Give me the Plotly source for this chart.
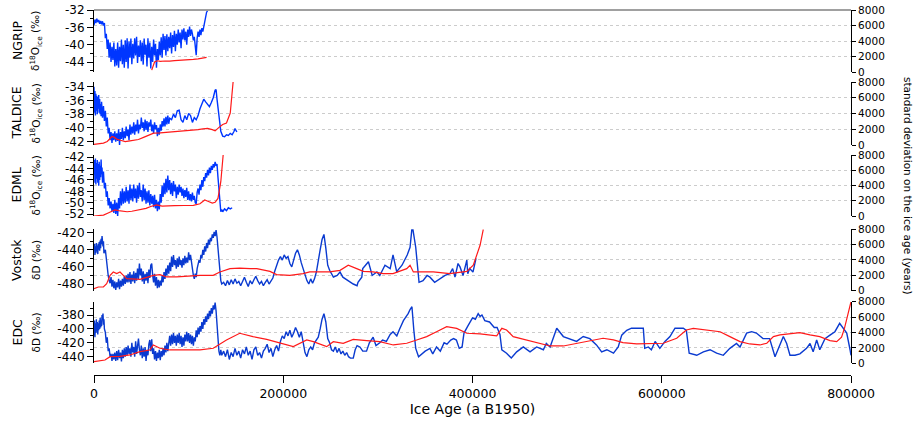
import plotly.graph_objects as go

# ages are in ka (thousand years before 1950); isotope values in permil; sigma in years

ngrip_age = list(range(0, 121))
ngrip_d18o = [-35.5, -34.2, -35.0, -34.0, -34.8, -34.3, -35.2, -34.5, -35.3, -34.6,
              -35.6, -35.0, -38.5, -37.5, -41.0, -38.8, -43.0, -39.5, -44.0, -40.5,
              -43.5, -39.5, -45.0, -41.0, -44.8, -39.5, -45.3, -40.5, -43.8, -38.8,
              -44.5, -40.0, -45.3, -39.0, -44.0, -38.5, -45.5, -39.2, -43.0, -38.6,
              -44.5, -39.8, -43.2, -38.5, -42.5, -38.2, -44.2, -40.2, -42.8, -39.0,
              -43.8, -39.5, -44.6, -38.6, -42.3, -40.0, -45.0, -38.5, -43.0, -39.5,
              -45.5, -40.5, -44.0, -38.8, -42.5, -39.8, -45.3, -41.0, -43.5, -39.3,
              -42.5, -38.3, -43.0, -37.5, -41.2, -38.0, -42.5, -37.6, -41.5, -38.2,
              -40.8, -37.2, -42.0, -37.8, -40.5, -36.8, -41.5, -37.5, -40.0, -36.5,
              -39.5, -37.2, -40.8, -36.5, -38.8, -36.2, -39.0, -37.0, -40.0, -36.5,
              -38.2, -35.8, -38.0, -36.5, -37.5, -39.0, -38.2, -41.0, -42.4, -38.5,
              -37.0, -38.2, -36.5, -37.8, -36.2, -37.0, -35.8, -35.0, -33.5, -32.5,
              -32.2]
ngrip_sig_age = [61, 62, 64, 67, 70, 75, 80, 85, 90, 95, 100, 105, 110, 115, 119]
ngrip_sig = [250, 700, 1300, 1450, 1380, 1420, 1400, 1480, 1500, 1560, 1560, 1620, 1700, 1820, 1900]

taldice_age = ([0, 0.5, 1, 1.5, 2, 2.5, 3, 3.5, 4, 4.5, 5, 5.5, 6, 6.5, 7, 7.5, 8]
               + list(range(9, 81)) + list(range(82, 129, 2))
               + [129, 130, 132, 134, 136, 138, 140, 142, 144, 146, 148, 149, 151])
taldice_d18o = [-34.0, -37.8, -34.6, -38.2, -35.0, -37.5, -35.3, -38.0, -35.5, -37.2,
                -35.2, -37.8, -35.8, -38.0, -36.5, -38.3, -36.2,
                -38.5, -36.8, -39.0, -37.5, -39.8, -38.5, -40.8, -40.0, -41.8, -40.6,
                -42.2, -40.8, -41.8, -40.5, -42.0, -40.8, -41.9, -40.2, -42.5, -40.6,
                -41.6, -40.0, -41.8, -40.5, -41.5, -39.8, -41.2, -40.2, -41.8, -39.5,
                -41.0, -39.8, -40.8, -39.2, -41.0, -39.5, -40.5, -38.8, -40.8, -39.5,
                -40.2, -38.5, -40.0, -39.2, -40.5, -38.8, -40.3, -39.0, -40.6, -39.2,
                -39.8, -38.8, -40.5, -39.5, -40.8, -39.2, -40.2, -39.6, -41.2, -40.0,
                -41.0, -39.5, -40.4, -39.0, -39.8, -38.6, -39.8, -38.4, -39.5, -38.2,
                -39.4, -38.6,
                -38.8, -38.0, -38.5, -37.5, -37.4, -38.8, -39.2, -38.2, -38.8, -37.9,
                -38.2, -39.2, -38.5, -38.8, -38.2, -37.2, -36.4, -35.8, -36.2, -36.6,
                -36.9, -36.3, -35.6, -34.5,
                -34.4, -35.8, -38.5, -40.5, -41.2, -41.3, -41.0, -41.1, -40.8, -41.0,
                -40.5, -40.1, -40.6]
taldice_sig_age = [0, 5, 10, 14, 17, 19, 21, 24, 28, 33, 38, 43, 47, 53, 58, 63, 70, 80,
                   90, 100, 110, 115, 120, 125, 128, 133, 136, 140, 144, 147]
taldice_sig = [90, 130, 250, 450, 800, 1080, 1000, 750, 600, 430, 520, 620, 700, 1000,
               1300, 1500, 1550, 1650, 1750, 1780, 1950, 2050, 2100, 1950, 1800, 2330,
               2600, 2790, 4060, 8000]

edml_age = ([0, 0.5, 1, 1.5, 2, 2.5, 3, 3.5, 4, 4.5, 5, 5.5, 6, 6.5, 7, 7.5, 8, 8.5, 9]
            + list(range(10, 137)) + [138, 140, 142, 144, 146])
edml_d18o = [-45.0, -42.5, -46.5, -42.2, -46.8, -43.0, -45.8, -42.5, -46.5, -43.2,
             -47.0, -42.8, -46.0, -43.5, -45.5, -42.4, -45.0, -43.8, -46.5,
             -44.5, -47.5, -46.5, -49.0, -48.0, -50.5, -49.2, -51.0, -49.8, -51.5,
             -50.2, -51.8, -49.5, -52.0, -50.0, -52.4, -49.2, -51.0, -48.0, -50.5,
             -47.5, -50.2, -48.0, -50.0, -47.2, -49.8, -47.8, -50.2, -46.8, -49.5,
             -47.5, -49.8, -46.8, -49.2, -47.5, -50.0, -47.0, -49.3, -46.5, -49.0,
             -47.8, -49.8, -46.8, -49.5, -47.5, -50.2, -48.0, -50.0, -47.8, -50.5,
             -48.5, -50.2, -48.8, -50.8, -48.6, -51.0, -49.5, -51.5, -49.8, -51.2,
             -48.5, -50.0, -47.0, -49.0, -46.5, -48.5, -45.8, -48.2, -45.2, -47.8,
             -46.0, -48.5, -46.5, -48.8, -46.2, -48.0, -46.8, -49.2, -47.2, -48.6,
             -46.8, -48.2, -47.2, -48.8, -47.5, -49.2, -47.8, -49.0, -47.4, -49.5,
             -48.0, -49.6, -48.5, -49.8, -48.2, -49.5, -48.8, -50.0, -50.2, -48.2,
             -47.5, -48.6, -46.8, -47.8, -46.0, -47.2, -45.5, -46.2, -44.8, -45.6,
             -44.2, -45.2, -43.8, -44.8, -43.5, -44.2, -43.2, -43.8, -42.8, -43.5,
             -43.2, -45.5, -48.0, -50.5, -51.6, -51.2, -51.6,
             -51.1, -51.4, -50.9, -51.1, -50.9]
edml_sig_age = [0, 10, 15, 19, 22, 26, 30, 35, 40, 45, 50, 55, 60, 66, 72, 78, 85, 95,
                105, 112, 117, 121, 125, 128, 131, 134, 136.5]
edml_sig = [0, 120, 400, 650, 800, 700, 620, 560, 620, 750, 780, 1000, 1250, 1450,
            1300, 1350, 1360, 1380, 1400, 1600, 2100, 1900, 1700, 1800, 2300, 4500, 8000]

vostok_age = ([i / 2 for i in range(0, 23)] + list(range(12, 136)) + list(range(137, 250, 2))
              + [253, 257, 260, 263, 268, 274, 278, 279, 283, 284, 288.5, 290, 294, 299,
                 302, 307.5, 313, 316, 320, 321, 325.5, 331, 334, 336, 337, 340, 343.5,
                 347.7, 352, 355, 360, 365.6, 371, 376, 379, 381.5, 384.7, 386.8, 390,
                 394, 395, 397, 400.5, 403.7])
vostok_dD = [-440, -433, -446, -436, -444, -432, -442, -435, -445, -433, -440, -431,
             -441, -429, -438, -427, -433, -424, -430, -436, -430, -444, -442,
             -440, -452, -462, -470, -476, -479, -472, -483, -475, -485, -477, -487,
             -478, -484, -474, -486, -476, -483, -474, -482, -471, -480, -470, -478,
             -468, -478, -466, -480, -469, -477, -465, -479, -467, -476, -462, -474,
             -456, -470, -462, -477, -465, -480, -468, -476, -466, -479, -463, -473,
             -458, -456, -470, -478, -468, -482, -472, -485, -475, -484, -476, -482,
             -470, -478, -466, -474, -462, -470, -458, -468, -455, -465, -448, -460,
             -446, -458, -452, -462, -450, -460, -448, -458, -452, -461, -450, -458,
             -447, -456, -449, -455, -443, -452, -446, -458, -462, -470, -474, -468,
             -472, -462, -458, -452, -455, -446, -450, -440, -446, -436, -442, -432,
             -438, -428, -434, -426, -430, -422, -426, -419, -424, -417, -425, -440,
             -458, -470, -476, -480,
             -478, -482, -476, -481, -475, -480, -474, -479, -477, -482,
             -476, -472, -478, -483, -476, -480, -475, -471, -476, -480,
             -477, -482, -478, -475, -480, -476, -473, -465, -458, -452,
             -448, -452, -446, -450, -448, -456, -460, -452, -444, -440,
             -446, -455, -462, -470, -476, -480, -474, -479, -474, -466,
             -455, -440, -428, -422, -438, -458, -464,
             -472, -470, -466, -472, -476, -480, -482, -478, -472, -462, -456, -454,
             -470, -466, -470, -458, -462, -446, -466, -464, -458, -446, -437, -415,
             -416, -437, -478, -476, -470, -472, -478, -474, -470, -468, -462, -472,
             -456, -460, -470, -452, -468, -462, -466, -450]
vostok_sig_age = [0, 4.6, 9.9, 13.4, 17, 20.4, 24, 27.5, 31, 34.5, 48.6, 62.7, 69.7,
                  76.8, 87.4, 101, 112, 126, 133, 143.7, 154, 165, 172, 186, 193, 207,
                  221, 228, 249, 260, 268.7, 277.6, 284.6, 295, 305.7, 316, 325, 330.5,
                  334, 337.5, 344.5, 358.6, 376, 394, 400.8, 404, 408, 411.4]
vostok_sig = [260, 480, 480, 910, 2000, 2440, 2220, 2440, 2000, 1570, 1480, 2000, 2090,
              1790, 1790, 1920, 2000, 2000, 2440, 2870, 2950, 2870, 2870, 2520, 2090,
              2000, 2220, 2440, 2440, 2650, 3310, 2870, 2520, 2440, 2220, 2220, 2650,
              2870, 3310, 2440, 2440, 2440, 2220, 2520, 3310, 4390, 5920, 8000]

edc_age = ([i / 2 for i in range(0, 23)] + list(range(12, 136)) + list(range(137, 272, 2))
           + [274, 276, 278, 281, 284, 288, 291, 295, 298, 302, 305, 309, 313, 316, 320,
              323, 327, 330, 332, 334, 336, 338, 340, 343, 346, 350, 355, 358, 362, 366,
              370, 373, 377, 380, 383, 386, 389, 391, 395, 400, 403, 406, 408, 410, 413,
              418, 423, 426, 429]
           + [431, 436, 441, 446.7, 453.7, 460.8, 467.8, 474.9, 478, 482, 489, 496, 503,
              510, 517, 524, 531, 536.5, 542, 549, 554, 557.7, 563, 568, 573.5, 580.5,
              582, 585.8, 589, 593, 598, 603.4, 608.7, 614, 622.8, 626, 629, 637, 644,
              651, 658, 665, 672, 679, 682.7, 689.7, 695, 700, 707, 714, 719.7, 725,
              728.5, 732, 735.5, 740.8, 746, 753, 756.7, 760, 763.7, 767, 772.5, 777.8,
              783, 788, 792, 795.5, 799, 800])
edc_dD = [-410, -388, -412, -392, -406, -386, -404, -390, -408, -392, -402, -388, -400,
          -384, -398, -388, -396, -380, -384, -378, -394, -386, -400,
          -405, -420, -412, -432, -428, -440, -436, -446, -436, -444, -434, -446, -432,
          -445, -430, -442, -434, -447, -430, -442, -428, -440, -426, -438, -424, -436,
          -428, -440, -420, -434, -426, -440, -418, -436, -422, -414, -430, -438, -424,
          -442, -428, -440, -426, -446, -430, -438, -422, -416, -432, -415, -436, -428,
          -444, -432, -446, -434, -442, -430, -445, -432, -440, -428, -438, -424, -434,
          -420, -432, -418, -410, -424, -408, -422, -406, -420, -410, -424, -408, -420,
          -406, -422, -410, -426, -412, -424, -408, -418, -404, -418, -406, -420, -408,
          -422, -410, -424, -412, -418, -402, -412, -398, -408, -396, -404, -390, -400,
          -386, -394, -382, -390, -378, -386, -374, -382, -370, -378, -366, -372, -362,
          -374, -396, -418, -432, -438, -430, -438,
          -432, -440, -430, -444, -434, -440, -428, -438, -432, -442,
          -430, -436, -426, -438, -432, -444, -430, -426, -438, -434,
          -442, -432, -428, -422, -434, -428, -440, -430, -424, -432,
          -418, -410, -414, -404, -410, -402, -412, -406, -398, -404,
          -412, -404, -418, -434, -440, -430, -426, -430, -420, -416,
          -412, -400, -386, -378, -390, -414, -420, -430, -432, -426,
          -434, -428, -436, -432, -438, -434, -440, -442,
          -442, -430, -424, -426, -432, -432, -420, -412, -424, -420, -416, -418, -408,
          -404, -410, -400, -388, -382, -378, -372, -368, -402, -428, -440, -436, -432,
          -428, -436, -426, -432, -420, -422, -416, -414, -416, -428, -426, -406, -396,
          -384, -386, -378, -382, -380, -388, -390, -398, -398, -408,
          -430, -435, -442, -433, -426, -433, -426, -430, -421, -426, -399, -411, -414,
          -418, -411, -414, -423, -433, -430, -435, -426, -409, -402, -399, -399, -399,
          -428, -426, -430, -418, -428, -418, -411, -399, -399, -402, -435, -438, -433,
          -430, -435, -438, -428, -421, -426, -406, -404, -406, -414, -414, -440, -421,
          -411, -421, -438, -438, -436, -428, -421, -433, -416, -430, -414, -409, -404,
          -392, -400, -406, -430, -438]
edc_sig_age = [0, 11.6, 17, 27.5, 38, 48.6, 59, 62.7, 69.7, 80, 101, 112, 126, 140, 154,
               168, 182.5, 196.6, 210.6, 224.8, 231.8, 245.9, 252.9, 263.4, 274, 288.2,
               302, 316.3, 330.5, 341, 351.6, 362, 372.7, 383.3, 394, 408, 422, 425.6,
               431, 436, 443, 457, 471, 482, 496, 510, 520.6, 531, 538, 549, 559, 573.5,
               587.6, 601.6, 615.8, 626, 633.3, 647.5, 661.6, 672, 682.7, 693, 703.8,
               711, 718, 725, 735.5, 746, 756.7, 767, 777.8, 784.9, 790, 793, 796,
               798.5, 800]
edc_sig = [210, 430, 860, 900, 1080, 1510, 1730, 2380, 1950, 1730, 1730, 1730, 1950,
           3030, 3900, 3460, 3110, 2600, 2160, 3030, 2810, 2160, 2810, 2600, 3110, 2940,
           2810, 2380, 2600, 3030, 3460, 4100, 4750, 4540, 3900, 3810, 3680, 3550, 4540,
           4330, 3460, 3030, 2600, 2250, 2250, 2600, 2810, 3030, 3250, 3030, 2680, 2510,
           2510, 2600, 3250, 4330, 4540, 4330, 4100, 3460, 2810, 2510, 2380, 2600, 3460,
           3680, 3810, 3980, 3680, 3460, 2940, 2810, 3400, 4500, 6000, 7400, 8000]

x_ticks = [0, 200000, 400000, 600000, 800000]
sig_ticks = [0, 2000, 4000, 6000, 8000]

FONT = "DejaVu Sans"
RED = "#ff1a1a"

# name, y-label, iso ages, iso values, sigma ages, sigma values, left range,
# major ticks, minor ticks, domain, blue colour
panels = [
    ("NGRIP", "δ<sup>18</sup>O<sub>ice</sub> (‰)", ngrip_age, ngrip_d18o, ngrip_sig_age, ngrip_sig,
     [-46.3, -32], [-32, -36, -40, -44], [-34, -38, -42, -46], [0.8301, 1.0], "#0036ff"),
    ("TALDICE", "δ<sup>18</sup>O<sub>ice</sub> (‰)", taldice_age, taldice_d18o, taldice_sig_age, taldice_sig,
     [-42.5, -33.3], [-34, -36, -38, -40, -42], [-35, -37, -39, -41], [0.6301, 0.8027], "#0036ff"),
    ("EDML", "δ<sup>18</sup>O<sub>ice</sub> (‰)", edml_age, edml_d18o, edml_sig_age, edml_sig,
     [-52.35, -41.6], [-42, -44, -46, -48, -50, -52], [-43, -45, -47, -49, -51], [0.4356, 0.6027], "#0036ff"),
    ("Vostok", "δD (‰)", vostok_age, vostok_dD, vostok_sig_age, vostok_sig,
     [-487.8, -416], [-420, -440, -460, -480], [-430, -450, -470], [0.2310, 0.3992], "#0a3ad0"),
    ("EDC", "δD (‰)", edc_age, edc_dD, edc_sig_age, edc_sig,
     [-449.5, -360.8], [-380, -400, -420, -440], [-370, -390, -410, -430], [0.0321, 0.2008], "#0a3ad0"),
]

fig = go.Figure()
layout = {}
annotations = []

for i, (name, ylab, age, iso, sage, sig, rng, tv, mtv, dom, blue) in enumerate(panels):
    left = 2 * i + 1
    right = 2 * i + 2
    lname = "y" if left == 1 else f"y{left}"
    rname = f"y{right}"

    fig.add_trace(go.Scatter(x=[a * 1000 for a in age], y=iso, mode="lines",
                             line=dict(color=blue, width=1.4), yaxis=lname,
                             showlegend=False))
    fig.add_trace(go.Scatter(x=[a * 1000 for a in sage], y=sig, mode="lines",
                             line=dict(color=RED, width=1.2), yaxis=rname,
                             showlegend=False))

    layout["yaxis" if left == 1 else f"yaxis{left}"] = dict(
        domain=dom, range=rng, anchor="x", side="left", automargin=False,
        showline=True, linecolor="black", linewidth=1,
        ticks="outside", ticklen=6, tickcolor="black",
        tickvals=tv, ticktext=[str(v) for v in tv],
        minor=dict(ticks="outside", ticklen=3, tickcolor="black", tickvals=mtv),
        showgrid=False, zeroline=False,
        tickfont=dict(size=12, color="black"),
    )
    layout[f"yaxis{right}"] = dict(
        overlaying=lname, range=[0, 8000], anchor="x", side="right", automargin=False,
        showline=True, linecolor="black", linewidth=1,
        ticks="outside", ticklen=4, tickcolor="black",
        tickvals=sig_ticks, ticktext=[str(v) for v in sig_ticks],
        showgrid=True, gridcolor="#cccccc", griddash="dot", gridwidth=1,
        zeroline=False, tickfont=dict(size=10.5, color="black"),
    )

    yc = (dom[0] + dom[1]) / 2
    annotations.append(dict(text=name, x=(17 - 94) / 757, y=yc, xref="paper", yref="paper",
                            textangle=-90, showarrow=False, xanchor="center", yanchor="middle",
                            font=dict(size=12.5, color="black")))
    annotations.append(dict(text=ylab, x=(36 - 94) / 757, y=yc, xref="paper", yref="paper",
                            textangle=-90, showarrow=False, xanchor="center", yanchor="middle",
                            font=dict(size=10.5, color="black")))

annotations.append(dict(text="standard deviation on the ice age (years)",
                        x=(908 - 94) / 757, y=0.5178, xref="paper", yref="paper",
                        textangle=90, showarrow=False, xanchor="center", yanchor="middle",
                        font=dict(size=10.5, color="black")))

fig.update_layout(
    **layout,
    xaxis=dict(domain=[0, 1], range=[0, 800000], anchor="free", position=0, automargin=False,
               showline=True, linecolor="black", ticks="outside", ticklen=7,
               tickcolor="black", tickvals=x_ticks, ticktext=[str(v) for v in x_ticks],
               showgrid=False, zeroline=False, tickfont=dict(size=12.5, color="black"),
               title=dict(text="Ice Age (a B1950)", font=dict(size=14, color="black"),
                          standoff=4)),
    annotations=annotations,
    shapes=[dict(type="line", xref="paper", yref="paper", x0=0, x1=1, y0=1, y1=1,
                 line=dict(color="#808080", width=1.5))],
    width=917, height=425,
    margin=dict(l=94, r=66, t=10, b=50),
    paper_bgcolor="white", plot_bgcolor="white",
    font=dict(family=FONT, size=12, color="black"),
)

fig.write_html("out.html", config={"displayModeBar": False},
               post_script="document.body.style.margin='0';")
